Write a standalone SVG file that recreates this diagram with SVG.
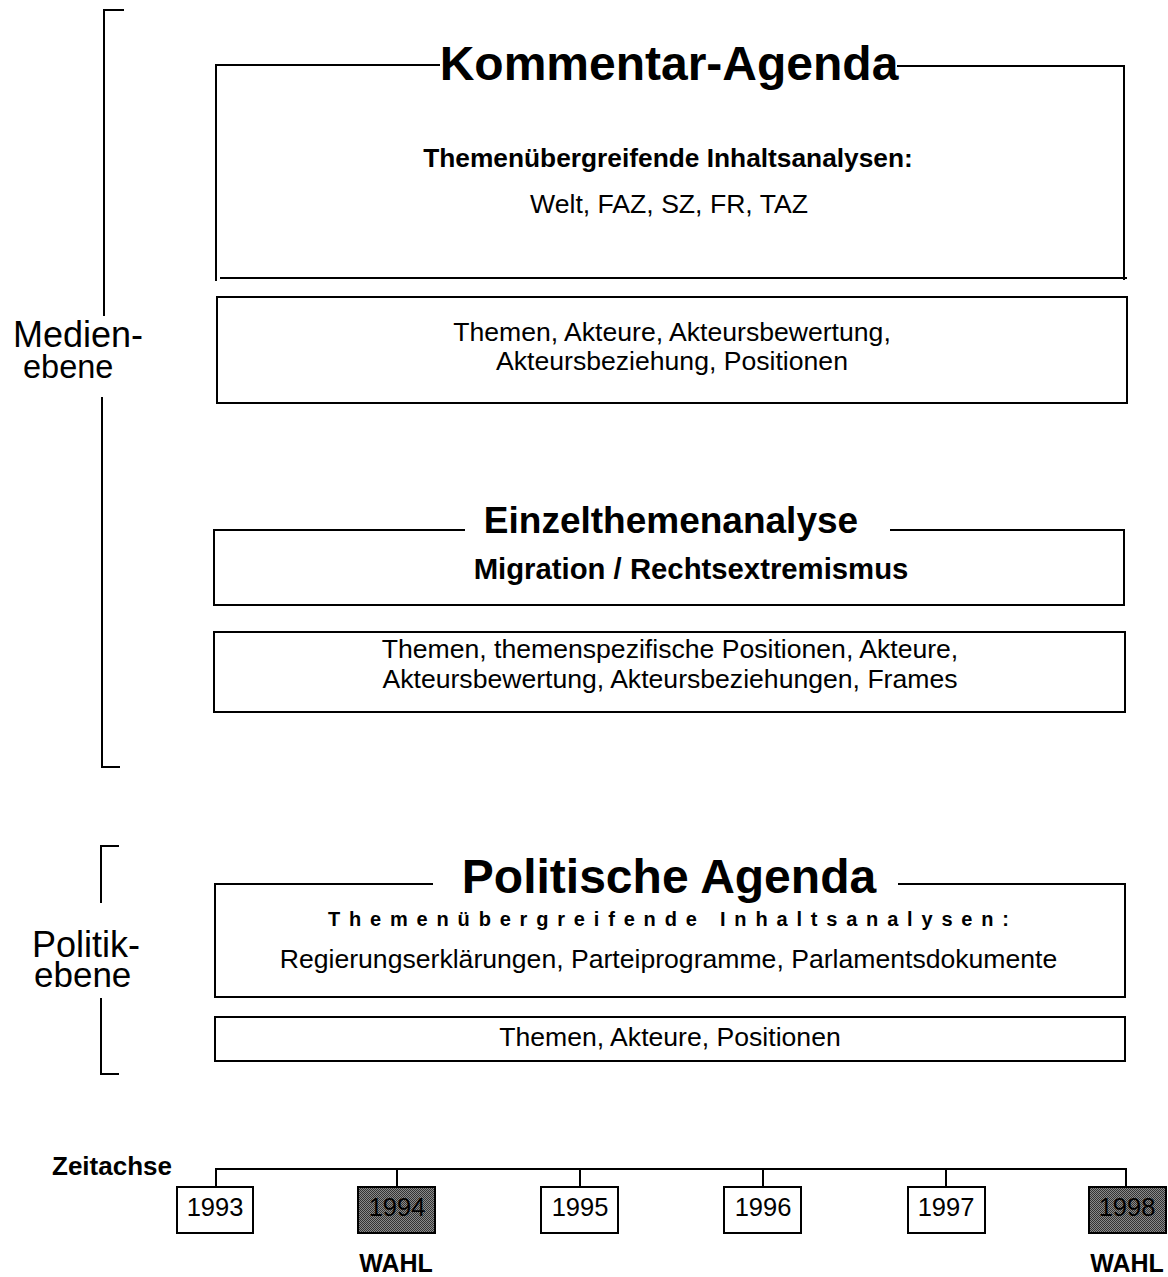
<svg xmlns="http://www.w3.org/2000/svg" width="1168" height="1277" viewBox="0 0 1168 1277">
<style>
.ln{stroke:#000;stroke-width:2;fill:none}
.bx{stroke:#000;stroke-width:2;fill:#fff}
.t{font-family:"Liberation Sans",Arial,sans-serif;fill:#000}
.b{font-weight:bold}
.c{text-anchor:middle}
.body{font-size:26.6px}
</style>
<defs>
<pattern id="stip" width="2" height="2" patternUnits="userSpaceOnUse">
<rect width="2" height="2" fill="#8a8a8a"/>
<rect width="1" height="1" fill="#333"/>
<rect x="1" y="1" width="1" height="1" fill="#333"/>
</pattern>
</defs>
<rect width="1168" height="1277" fill="#fff"/>

<g id="medien-bracket">
<path class="ln" d="M124,10 H104 V316 M102,397 V767 H120"/>
<text class="t" x="13" y="347" font-size="36">Medien-</text>
<text class="t" x="23" y="378" font-size="32.5">ebene</text>
</g>

<g id="politik-bracket">
<path class="ln" d="M119,846 H101 V903 M101,998 V1074 H119"/>
<text class="t" x="32" y="957" font-size="36">Politik-</text>
<text class="t" x="34" y="987" font-size="35">ebene</text>
</g>

<g id="kommentar-agenda">
<path class="ln" d="M440,65 H216 V281 M220,278 H1127 M1124,280 V66 H897"/>
<text class="t b c" x="669" y="80" font-size="48">Kommentar-Agenda</text>
<text class="t b c" x="668" y="167" font-size="26.3">Themenübergreifende Inhaltsanalysen:</text>
<text class="t c body" x="669" y="213">Welt, FAZ, SZ, FR, TAZ</text>
</g>

<g id="kommentar-merkmale">
<rect class="bx" x="217" y="297" width="910" height="106"/>
<text class="t c body" x="672" y="341">Themen, Akteure, Akteursbewertung,</text>
<text class="t c body" x="672" y="370">Akteursbeziehung, Positionen</text>
</g>

<g id="einzelthemenanalyse">
<path class="ln" d="M465,530 H214 V605 H1124 V530 H890"/>
<text class="t b c" x="671" y="533" font-size="37">Einzelthemenanalyse</text>
<text class="t b c" x="691" y="579" font-size="29.3">Migration / Rechtsextremismus</text>
</g>

<g id="einzelthemen-merkmale">
<rect class="bx" x="214" y="632" width="911" height="80"/>
<text class="t c body" x="670" y="658">Themen, themenspezifische Positionen, Akteure,</text>
<text class="t c body" x="670" y="688">Akteursbewertung, Akteursbeziehungen, Frames</text>
</g>

<g id="politische-agenda">
<path class="ln" d="M433,884 H215 V997 H1125 V884 H898"/>
<text class="t b c" x="669" y="893" font-size="48">Politische Agenda</text>
<text class="t b" x="328" y="926" font-size="20" textLength="681" lengthAdjust="spacing">Themenübergreifende Inhaltsanalysen:</text>
<text class="t c body" x="668.5" y="968">Regierungserklärungen, Parteiprogramme, Parlamentsdokumente</text>
</g>

<g id="politik-merkmale">
<rect class="bx" x="215" y="1017" width="910" height="44"/>
<text class="t c body" x="670" y="1046">Themen, Akteure, Positionen</text>
</g>

<g id="connectors">
<path class="ln" d="M216,1187 V1169 H1126 V1187 M397,1169 V1187 M580,1169 V1187 M763,1169 V1187 M946,1169 V1187"/>
</g>

<g id="zeitachse">
<text class="t b" x="52" y="1175" font-size="26">Zeitachse</text>
</g>

<g id="y1993">
<rect class="bx" x="177" y="1187" width="76" height="46"/>
<text class="t c" x="215" y="1216" font-size="25.5">1993</text>
</g>
<g id="y1994">
<rect x="358" y="1187" width="77" height="46" fill="url(#stip)" stroke="#000" stroke-width="2"/>
<text class="t c" x="397" y="1216" font-size="25.5">1994</text>
<text class="t b c" x="396" y="1272" font-size="25">WAHL</text>
</g>
<g id="y1995">
<rect class="bx" x="541" y="1187" width="77" height="46"/>
<text class="t c" x="580" y="1216" font-size="25.5">1995</text>
</g>
<g id="y1996">
<rect class="bx" x="724" y="1187" width="77" height="46"/>
<text class="t c" x="763" y="1216" font-size="25.5">1996</text>
</g>
<g id="y1997">
<rect class="bx" x="908" y="1187" width="77" height="46"/>
<text class="t c" x="946" y="1216" font-size="25.5">1997</text>
</g>
<g id="y1998">
<rect x="1089" y="1187" width="77" height="46" fill="url(#stip)" stroke="#000" stroke-width="2"/>
<text class="t c" x="1127" y="1216" font-size="25.5">1998</text>
<text class="t b c" x="1127" y="1272" font-size="25">WAHL</text>
</g>
</svg>
